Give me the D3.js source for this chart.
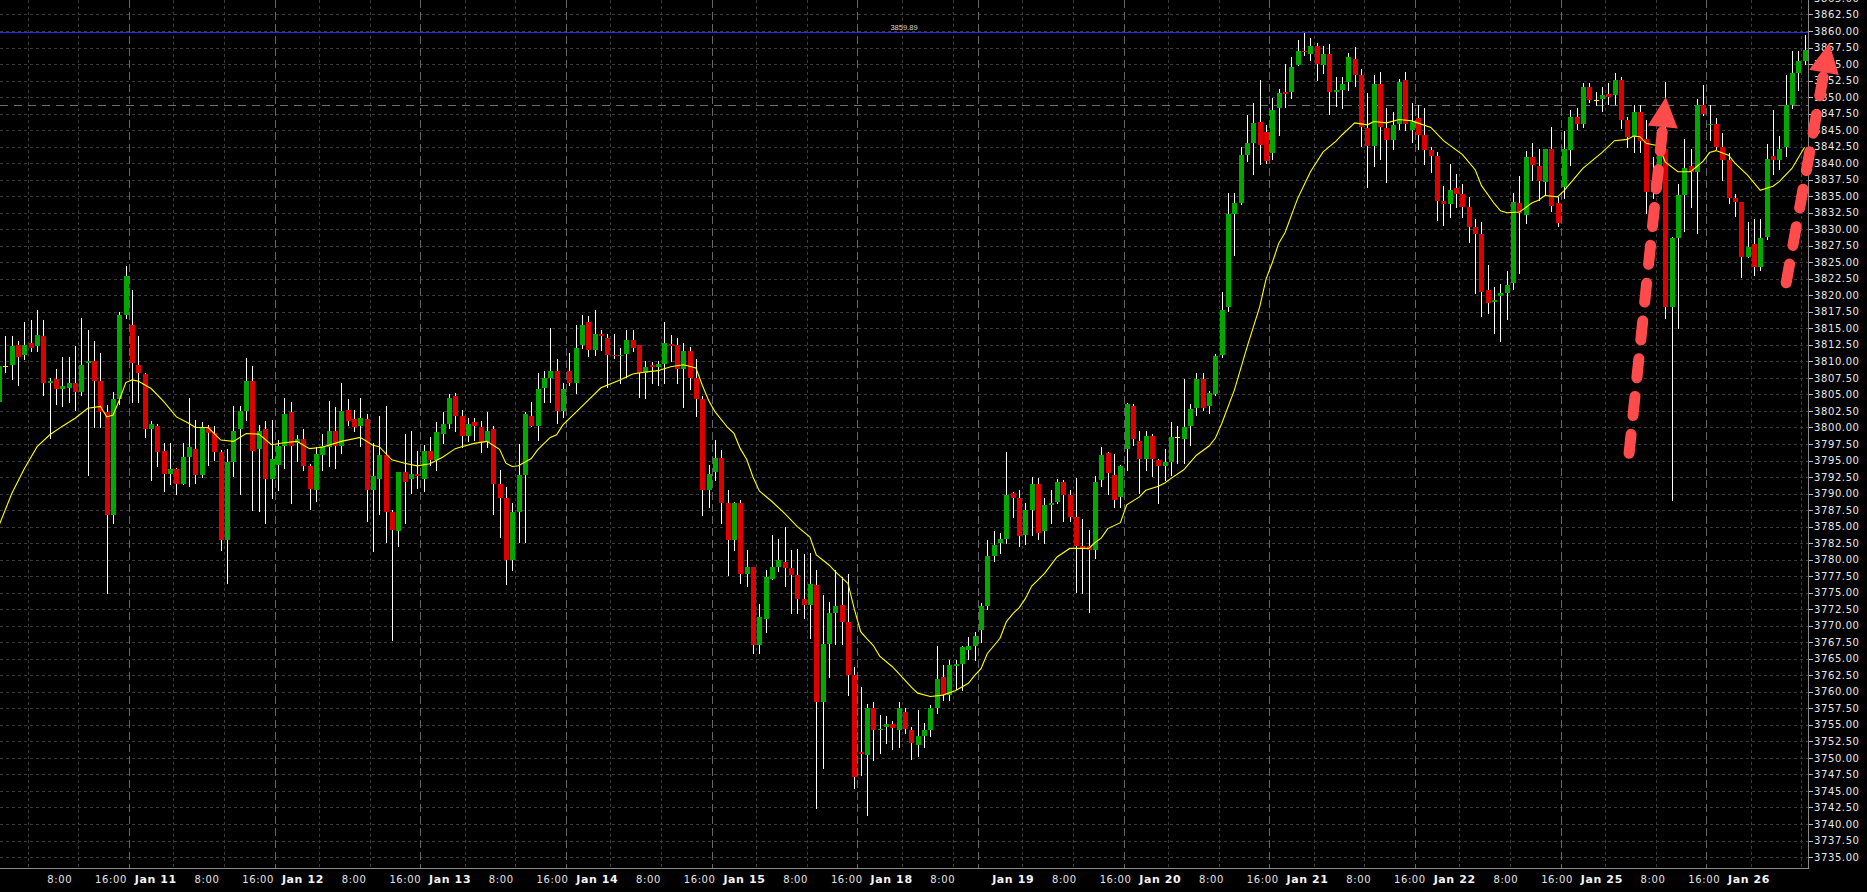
<!DOCTYPE html>
<html><head><meta charset="utf-8">
<script src="https://cdn.jsdelivr.net/npm/d3@7/dist/d3.min.js"></script>
<style>
html,body{margin:0;padding:0;background:#000;overflow:hidden}
svg{display:block}
</style></head><body>
<svg id="chart" width="1867" height="892"></svg>
<script>
// ---------------- DATA ----------------
const opens = [
3803.8,3809.3,3809.45,3812.5,3810.9,3812.8,3812.3,3813.8,3806.8,3807.3,
3805.8,3806.0,3806.8,3805.3,3809.8,3810.1,3807.1,3802.4,3786.7,3804.3,
3817.0,3815.5,3809.45,3808.1,3799.8,3800.2,3796.4,3793.0,3793.7,3791.5,
3795.5,3796.7,3792.8,3800.1,3799.1,3796.3,3783.0,3794.8,3799.8,3802.5,
3807.1,3796.7,3799.7,3792.2,3794.3,3797.2,3802.3,3797.6,3798.2,3794.1,
3790.5,3795.8,3797.1,3799.5,3797.2,3802.7,3801.3,3800.2,3801.3,3790.5,
3792.2,3795.9,3787.2,3784.4,3793.2,3792.2,3793.0,3792.2,3796.4,3795.1,
3799.0,3800.5,3804.8,3801.7,3798.7,3800.9,3800.0,3797.8,3799.7,3791.4,
3789.4,3779.9,3787.2,3792.8,3801.7,3800.2,3806.0,3807.5,3808.5,3802.5,
3808.5,3806.7,3812.5,3815.9,3811.8,3814.1,3813.6,3811.0,3810.8,3811.1,
3813.3,3812.5,3808.3,3809.4,3809.2,3809.6,3812.6,3812.5,3808.9,3811.6,
3807.5,3804.3,3790.5,3793.3,3795.4,3788.5,3783.0,3788.5,3777.8,3778.9,
3767.1,3771.0,3777.0,3778.9,3779.7,3778.8,3777.7,3774.1,3773.2,3776.1,
3758.4,3767.2,3772.0,3773.1,3770.5,3762.5,3750.9,3750.5,3757.6,3754.2,
3754.7,3755.1,3754.2,3757.0,3754.2,3752.0,3753.3,3754.2,3757.5,3762.2,
3759.5,3763.9,3764.2,3766.4,3766.9,3769.3,3773.0,3780.6,3782.5,3783.2,
3790.1,3789.4,3783.7,3787.5,3791.4,3784.4,3788.3,3788.7,3791.7,3789.8,
3786.4,3782.1,3782.1,3781.4,3792.1,3796.1,3792.8,3789.5,3796.7,3803.2,
3797.9,3795.3,3798.7,3795.1,3794.1,3794.8,3798.5,3798.3,3800.2,3803.0,
3807.4,3803.2,3805.0,3811.0,3818.2,3832.3,3834.0,3841.2,3843.1,3846.2,
3844.7,3841.6,3848.4,3850.7,3850.7,3854.9,3857.0,3856.5,3857.7,3854.9,
3856.5,3850.7,3851.1,3852.3,3855.7,3853.3,3845.3,3842.6,3852.0,3845.3,
3843.5,3846.0,3852.6,3845.0,3846.8,3844.2,3842.0,3841.1,3834.3,3833.8,
3836.2,3835.4,3833.3,3830.4,3829.3,3820.8,3819.0,3819.9,3820.4,3821.8,
3833.9,3832.2,3841.0,3839.6,3837.1,3842.1,3834.0,3836.4,3842.0,3847.0,
3846.0,3851.6,3849.5,3849.7,3850.4,3850.3,3852.6,3846.6,3844.0,3847.7,
3843.6,3835.7,3837.3,3842.2,3818.2,3828.6,3835.2,3839.6,3838.6,3848.8,
3845.8,3845.9,3842.5,3840.5,3834.8,3834.1,3825.8,3827.7,3824.3,3828.9,
3841.1,3840.5,3842.5,3848.8,3853.7,3855.5];
const highs = [
3810.8,3813.8,3813.8,3813.1,3815.9,3816.3,3817.8,3816.3,3807.5,3808.9,
3810.7,3810.6,3812.4,3816.6,3814.8,3813.1,3811.3,3803.4,3805.4,3817.5,
3824.5,3820.8,3813.8,3808.2,3801.0,3800.6,3797.7,3797.7,3793.8,3797.7,
3804.4,3801.1,3800.9,3800.4,3800.2,3796.6,3796.8,3803.2,3803.2,3810.5,
3809.3,3800.4,3801.0,3801.1,3798.1,3804.5,3803.9,3798.9,3799.8,3794.5,
3797.0,3799.0,3804.0,3803.1,3806.8,3804.3,3802.6,3804.4,3802.0,3797.6,
3801.7,3803.2,3787.5,3793.3,3799.0,3799.5,3796.5,3797.4,3798.6,3800.9,
3802.4,3805.1,3805.2,3802.6,3801.5,3801.5,3801.0,3802.4,3800.2,3793.6,
3791.0,3788.6,3797.5,3802.4,3803.8,3808.2,3808.6,3815.0,3810.3,3806.7,
3811.2,3815.5,3817.0,3816.8,3817.8,3814.7,3814.2,3814.1,3812.1,3814.7,
3814.7,3812.5,3810.1,3809.9,3810.0,3816.0,3814.0,3813.6,3812.8,3812.2,
3810.3,3804.7,3794.3,3798.1,3796.6,3790.6,3788.8,3789.0,3781.4,3778.9,
3773.3,3778.5,3783.7,3783.1,3785.0,3781.4,3781.6,3780.9,3781.0,3778.5,
3774.6,3773.6,3778.4,3777.3,3777.8,3763.8,3760.8,3758.1,3758.5,3756.5,
3756.3,3755.6,3758.4,3757.6,3754.7,3757.2,3755.3,3758.0,3766.9,3764.0,
3764.8,3764.8,3766.9,3768.3,3769.1,3773.5,3783.0,3784.4,3784.1,3796.3,
3790.3,3790.5,3788.6,3792.5,3792.4,3789.4,3790.5,3792.2,3792.0,3790.5,
3792.4,3786.2,3784.5,3792.7,3797.1,3796.3,3796.0,3794.3,3803.7,3803.5,
3799.5,3799.5,3799.0,3795.2,3796.7,3800.9,3800.2,3807.3,3803.6,3808.2,
3808.3,3805.5,3811.1,3820.5,3835.5,3835.5,3842.4,3847.3,3849.1,3852.6,
3845.8,3849.8,3851.2,3855.0,3856.1,3858.7,3859.9,3859.0,3858.2,3857.7,
3858.0,3853.0,3853.1,3856.6,3857.6,3854.2,3850.6,3853.3,3853.8,3848.3,
3847.7,3852.7,3853.8,3849.1,3848.8,3848.4,3842.5,3841.7,3836.5,3839.9,
3838.4,3836.9,3834.9,3831.5,3831.1,3824.6,3821.3,3821.7,3823.7,3835.5,
3838.0,3841.9,3843.1,3842.2,3842.2,3845.5,3834.9,3844.9,3848.0,3848.4,
3852.2,3852.1,3850.7,3851.6,3852.1,3853.7,3853.0,3847.0,3848.8,3848.8,
3846.5,3841.0,3843.5,3852.3,3828.9,3836.9,3843.7,3842.2,3849.7,3851.8,
3848.8,3846.8,3844.6,3841.6,3835.4,3834.1,3831.1,3831.6,3831.5,3842.9,
3848.1,3844.1,3853.3,3857.0,3857.0,3859.4];
const lows = [
3802.8,3808.4,3807.3,3806.5,3810.4,3811.5,3811.5,3804.9,3798.4,3803.6,
3803.2,3803.9,3802.7,3804.9,3792.8,3800.1,3800.1,3774.9,3785.6,3803.6,
3816.5,3803.9,3803.9,3798.6,3792.0,3794.1,3790.4,3791.5,3790.0,3791.5,
3791.2,3791.6,3792.5,3794.3,3795.1,3781.4,3776.4,3792.7,3790.0,3801.2,
3787.5,3787.4,3785.5,3789.3,3790.5,3793.8,3788.6,3795.0,3793.6,3787.7,
3788.9,3793.6,3794.2,3793.9,3796.2,3800.4,3799.4,3797.2,3785.9,3781.3,
3786.9,3782.7,3767.8,3782.0,3785.6,3790.1,3790.8,3790.4,3794.3,3793.6,
3797.6,3799.9,3799.5,3797.0,3798.0,3798.1,3796.3,3797.0,3786.9,3783.5,
3776.3,3778.5,3782.7,3782.7,3800.2,3798.1,3803.8,3803.9,3800.7,3801.6,
3806.4,3805.2,3812.0,3810.8,3811.0,3811.7,3806.1,3810.5,3806.8,3807.7,
3811.6,3804.6,3804.4,3806.8,3806.4,3806.8,3810.0,3806.8,3803.1,3805.9,
3801.7,3786.8,3787.9,3792.1,3785.6,3777.7,3781.5,3776.4,3776.0,3765.8,
3765.8,3769.1,3777.0,3778.3,3776.0,3771.9,3771.9,3771.1,3768.1,3742.4,
3748.4,3762.2,3767.2,3767.2,3759.5,3745.4,3747.4,3741.4,3749.7,3750.8,
3752.2,3751.3,3751.7,3753.7,3749.9,3750.3,3751.7,3753.3,3756.8,3758.8,
3758.8,3760.5,3760.3,3765.0,3764.8,3767.6,3772.5,3779.8,3781.0,3782.5,
3786.5,3782.0,3782.4,3783.7,3783.2,3782.5,3785.5,3788.5,3785.9,3785.9,
3775.1,3774.9,3772.1,3780.2,3791.1,3790.0,3788.0,3788.0,3793.6,3797.3,
3790.1,3793.6,3792.7,3788.5,3792.0,3792.8,3794.7,3794.7,3797.3,3801.9,
3802.6,3802.2,3804.9,3810.7,3817.7,3826.1,3833.8,3840.4,3838.4,3839.9,
3840.0,3840.7,3844.3,3848.5,3849.9,3854.8,3856.4,3855.6,3852.6,3853.6,
3847.5,3848.6,3848.3,3851.1,3851.7,3842.6,3836.4,3839.6,3840.7,3837.2,
3842.2,3845.1,3845.0,3843.2,3842.1,3839.9,3838.7,3831.4,3830.6,3831.9,
3833.4,3831.9,3828.1,3820.4,3816.9,3817.3,3814.3,3813.1,3816.4,3821.0,
3823.4,3830.9,3837.5,3834.4,3835.2,3832.7,3830.5,3834.7,3839.7,3845.1,
3845.5,3849.3,3848.8,3847.9,3849.0,3849.0,3845.3,3842.5,3841.7,3841.7,
3832.4,3834.7,3836.0,3816.5,3789.0,3815.0,3829.8,3833.4,3829.5,3847.3,
3843.5,3842.1,3837.5,3834.0,3832.0,3822.7,3825.8,3823.1,3823.9,3828.5,
3838.4,3839.1,3841.1,3848.4,3851.0,3855.0];
const closes = [
3809.3,3809.3,3812.4,3810.6,3812.5,3812.1,3814.0,3806.8,3807.1,3805.8,
3806.3,3806.8,3805.3,3809.45,3810.0,3807.1,3802.4,3786.7,3804.3,3817.0,
3822.9,3809.8,3808.3,3799.8,3800.5,3796.3,3793.0,3793.7,3791.5,3795.5,
3797.1,3792.8,3800.1,3799.1,3796.3,3782.9,3794.8,3799.5,3802.5,3807.1,
3796.5,3799.5,3792.2,3795.2,3797.2,3802.0,3797.2,3798.2,3794.1,3790.7,
3796.0,3797.2,3799.5,3797.2,3802.5,3801.0,3800.1,3801.5,3790.5,3792.6,
3795.8,3787.2,3784.5,3793.2,3791.8,3793.0,3792.6,3796.4,3795.1,3799.3,
3800.5,3804.4,3801.7,3798.7,3800.5,3800.2,3797.8,3799.5,3791.4,3789.4,
3779.9,3787.2,3792.8,3802.0,3800.2,3805.9,3807.5,3808.5,3802.5,3805.8,
3806.7,3812.1,3815.5,3811.8,3814.1,3813.9,3811.0,3810.8,3811.0,3813.3,
3812.1,3808.3,3809.2,3809.2,3809.6,3812.8,3812.3,3808.9,3811.6,3807.5,
3804.3,3790.5,3793.0,3795.4,3788.5,3783.0,3788.5,3777.8,3778.9,3767.1,
3771.3,3777.4,3778.9,3780.0,3778.8,3777.7,3774.1,3773.2,3776.3,3758.4,
3767.2,3772.0,3773.0,3770.5,3762.5,3747.1,3750.6,3757.6,3754.2,3754.3,
3755.1,3754.6,3757.6,3754.3,3752.3,3753.3,3754.2,3757.5,3761.9,3759.5,
3764.0,3764.2,3766.8,3766.9,3768.4,3773.0,3780.6,3782.2,3783.2,3789.8,
3789.4,3783.6,3787.5,3791.4,3784.1,3788.3,3788.6,3791.7,3789.8,3786.4,
3782.1,3781.7,3781.5,3791.7,3795.8,3793.1,3789.1,3794.1,3803.5,3798.3,
3795.3,3798.7,3795.3,3794.1,3794.8,3798.5,3798.5,3800.1,3802.8,3807.3,
3803.0,3805.2,3810.8,3817.8,3832.3,3834.0,3841.2,3843.1,3846.1,3842.7,
3840.4,3848.0,3850.6,3850.4,3854.5,3857.0,3856.8,3857.7,3855.0,3856.5,
3850.8,3851.1,3852.0,3856.0,3853.3,3845.5,3842.6,3852.0,3845.5,3843.5,
3845.8,3852.3,3846.0,3846.3,3844.2,3842.0,3841.1,3834.3,3833.8,3836.0,
3835.4,3833.3,3830.4,3829.3,3820.5,3818.9,3819.3,3820.4,3821.5,3834.1,
3832.5,3841.0,3839.7,3837.3,3842.1,3833.5,3831.0,3842.1,3847.0,3846.0,
3851.6,3849.5,3849.5,3850.3,3850.0,3852.6,3846.6,3844.0,3847.7,3843.4,
3835.7,3837.3,3842.0,3818.2,3828.6,3835.2,3839.3,3838.7,3848.8,3847.4,
3846.0,3842.5,3840.5,3834.8,3834.1,3825.8,3827.3,3824.3,3828.6,3840.7,
3840.5,3842.2,3848.8,3853.6,3855.5,3857.1];

// Moving average (bar index -> value)
const maBars = [0,2,4,6,8,10,12,14,16,17,18,19,20,21,22,24,26,28,30,31,33,35,37,39,41,43,45,47,49,51,
54,57,59,60,62,64,66,68,70,72,73,75,77,79,80,81,82,84,85,87,88,89,92,95,98,100,102,104,106,108,
110,111,112,113,115,116,117,118,119,120,122,124,126,128,129,131,132,134,135,136,137,138,139,141,142,144,145,147,149,151,
153,154,155,156,158,159,160,161,162,163,165,167,169,172,173,174,175,177,178,180,181,183,184,185,187,189,191,192,193,195,
197,199,200,201,202,203,205,207,209,211,212,214,216,217,219,221,223,226,228,231,233,234,236,237,238,240,242,243,244,246,
247,250,253,255,257,258,259,260,262,263,265,267,268,269,270,271,273,274,276,278,279,280,281,283,285];
const maValues = [3785.2,3790.0,3793.8,3797.1,3798.9,3800.2,3801.4,3802.9,3803.2,3801.6,3801.9,3804.2,3806.8,3807.2,3807.0,3805.9,3803.9,3801.6,3800.6,3800.0,
3800.0,3798.1,3797.9,3799.1,3799.0,3797.4,3797.7,3797.9,3796.8,3797.0,3797.9,3798.5,3797.3,3797.1,3795.1,3794.6,3794.2,3794.5,3795.5,3796.8,
3797.1,3797.6,3797.9,3796.7,3794.6,3794.1,3794.2,3795.3,3796.6,3798.5,3798.9,3800.4,3803.2,3806.0,3807.2,3808.1,3808.4,3808.6,3809.2,3809.5,
3809.0,3806.4,3804.1,3802.4,3800.0,3799.1,3796.8,3795.2,3792.5,3790.4,3788.8,3787.0,3785.0,3783.4,3780.7,3779.2,3778.2,3776.4,3772.5,3769.1,
3768.0,3767.0,3765.4,3763.8,3762.8,3760.7,3759.8,3759.3,3759.5,3760.2,3761.3,3762.5,3763.5,3765.8,3768.1,3770.6,3771.8,3772.7,3774.1,3776.0,
3777.9,3780.4,3781.7,3781.7,3782.6,3783.3,3784.7,3785.6,3788.3,3789.5,3790.5,3791.1,3791.6,3792.3,3793.6,3795.8,3797.2,3798.4,3800.6,3805.7,
3812.2,3818.3,3822.5,3825.0,3827.9,3829.5,3834.7,3838.7,3841.7,3843.3,3844.3,3846.1,3845.8,3846.3,3846.1,3846.6,3846.4,3845.4,3843.4,3841.3,
3839.0,3836.6,3833.9,3832.8,3832.5,3832.6,3834.0,3834.4,3835.1,3834.9,3835.8,3839.2,3841.6,3843.4,3843.6,3844.1,3844.0,3843.0,3842.6,3840.2,
3838.7,3838.7,3839.5,3840.3,3841.6,3841.9,3841.2,3840.0,3838.2,3835.9,3836.2,3836.5,3837.2,3839.2,3842.4];

// Trading sessions (hourly bars; hour 23 closed each day, Jan 18 holiday break)
const fullDay = d3.range(0, 23);
const sessions = [
  ["Jan 7", d3.range(18, 23)], ["Jan 8", fullDay], ["Jan 11", fullDay], ["Jan 12", fullDay],
  ["Jan 13", fullDay], ["Jan 14", fullDay], ["Jan 15", fullDay],
  ["Jan 18", d3.range(0, 12).concat(d3.range(16, 23))],
  ["Jan 19", fullDay], ["Jan 20", fullDay], ["Jan 21", fullDay], ["Jan 22", fullDay],
  ["Jan 25", fullDay], ["Jan 26", d3.range(0, 9)]
];
const priceTicks = d3.range(3735, 3865.01, 2.5);
const lastPrice = 3859.89;
const dashedLevel = 3848.8;
const arrowNotes = [
  {fromBar: 257.3, fromPrice: 3796.1, toBar: 263.1, toPrice: 3850.0},
  {fromBar: 282.1, fromPrice: 3821.9, toBar: 288.9, toPrice: 3858.2}
];

// ---------------- LAYOUT ----------------
const plotW = 1808, plotH = 868;
const N = opens.length;
const barTimes = sessions.flatMap(([date, hours]) => hours.map(h => ({date, h})));
const x = d3.scaleLinear().domain([0, N - 1]).range([-0.9, -0.9 + (N - 1) * 6.335]);
const xLab = d3.scaleLinear().domain([0, N - 1]).range([-23.4, -23.4 + (N - 1) * 6.3986]);
const y = d3.scaleLinear().domain([3733.34, 3864.69]).range([plotH, 0]);
const step = x(1) - x(0);

const svg = d3.select("#chart");
svg.append("rect").attr("width", 1867).attr("height", 892).attr("fill", "#000");
svg.append("defs").append("clipPath").attr("id", "plotclip")
  .append("rect").attr("x", 0).attr("y", 0).attr("width", plotW).attr("height", plotH);
const plot = svg.append("g").attr("clip-path", "url(#plotclip)");

// horizontal grid
plot.append("g").selectAll("line").data(priceTicks).join("line")
  .attr("x1", 0).attr("x2", plotW)
  .attr("y1", d => Math.round(y(d)) + 0.5).attr("y2", d => Math.round(y(d)) + 0.5)
  .attr("stroke", "#3a3a3a").attr("stroke-dasharray", "3,3").attr("shape-rendering", "crispEdges");

// vertical grid
const vgrid = barTimes.map((t, i) => ({i, h: t.h})).filter(d => d.h === 0 || d.h === 8 || d.h === 16);
plot.append("g").selectAll("line").data(vgrid).join("line")
  .attr("x1", d => Math.round(x(d.i) - step / 2) + 0.5).attr("x2", d => Math.round(x(d.i) - step / 2) + 0.5)
  .attr("y1", 0).attr("y2", plotH)
  .attr("stroke", d => d.h === 16 ? "#666" : "#3a3a3a")
  .attr("stroke-dasharray", d => d.h === 16 ? "8,4" : "3,3")
  .attr("shape-rendering", "crispEdges");

// dashed level line
plot.append("line").attr("x1", 0).attr("x2", plotW)
  .attr("y1", Math.round(y(dashedLevel)) + 0.5).attr("y2", Math.round(y(dashedLevel)) + 0.5)
  .attr("stroke", "#6e6e6e").attr("stroke-dasharray", "8,6").attr("shape-rendering", "crispEdges");

// candles
const bars = d3.range(N).map(i => ({i, o: opens[i], h: highs[i], l: lows[i], c: closes[i]}));
const cg = plot.append("g");
cg.selectAll("line").data(bars).join("line")
  .attr("x1", d => Math.round(x(d.i)) + 0.5).attr("x2", d => Math.round(x(d.i)) + 0.5)
  .attr("y1", d => Math.round(y(d.h))).attr("y2", d => Math.round(y(d.l)) + 1)
  .attr("stroke", "#fff").attr("stroke-width", 1).attr("shape-rendering", "crispEdges");
cg.selectAll("rect").data(bars).join("rect")
  .attr("x", d => Math.round(x(d.i)) - 2).attr("width", 5)
  .attr("y", d => Math.round(y(Math.max(d.o, d.c))))
  .attr("height", d => Math.max(1, Math.round(y(Math.min(d.o, d.c))) - Math.round(y(Math.max(d.o, d.c)))))
  .attr("fill", d => d.c > d.o ? "#00a800" : d.c < d.o ? "#dc0000" : "#ffff00")
  .attr("shape-rendering", "crispEdges");

// moving average
const maPts = maBars.map((b, k) => [b, maValues[k]]);
plot.append("path").datum(maPts)
  .attr("d", d3.line().x(d => x(d[0])).y(d => y(d[1])))
  .attr("fill", "none").attr("stroke", "#ffff00").attr("stroke-width", 1.1);

// last price line
plot.append("line").attr("x1", 0).attr("x2", plotW)
  .attr("y1", Math.round(y(lastPrice)) + 0.5).attr("y2", Math.round(y(lastPrice)) + 0.5)
  .attr("stroke", "#2a2aff").attr("shape-rendering", "crispEdges");
svg.append("text").attr("x", plotW / 2).attr("y", Math.round(y(lastPrice)) - 2)
  .attr("text-anchor", "middle").attr("font-family", "Liberation Sans, Arial, sans-serif")
  .attr("font-size", 7.5).attr("fill", "#d4d4d4").text(d3.format(".2f")(lastPrice));

// axes
svg.append("line").attr("x1", 0).attr("x2", plotW + 0.5).attr("y1", plotH + 0.5).attr("y2", plotH + 0.5)
  .attr("stroke", "#8a8a8a").attr("shape-rendering", "crispEdges");
svg.append("line").attr("x1", plotW + 0.5).attr("x2", plotW + 0.5).attr("y1", 0).attr("y2", plotH + 0.5)
  .attr("stroke", "#8a8a8a").attr("shape-rendering", "crispEdges");

const pg = svg.append("g");
pg.selectAll("line").data(priceTicks).join("line")
  .attr("x1", plotW + 1).attr("x2", plotW + 5)
  .attr("y1", d => Math.round(y(d)) + 0.5).attr("y2", d => Math.round(y(d)) + 0.5)
  .attr("stroke", "#bbb").attr("shape-rendering", "crispEdges");
pg.selectAll("text").data(priceTicks).join("text")
  .attr("x", plotW + 6).attr("y", d => y(d) + 3.6)
  .attr("font-family", "DejaVu Sans, sans-serif").attr("font-size", 10)
  .attr("letter-spacing", "0.6px").attr("fill", "#e8e8e8")
  .text(d => d3.format(".2f")(d));

// time labels
const labels = barTimes.map((t, i) => ({i, t}))
  .filter(d => d.t.h === 0 || d.t.h === 8 || d.t.h === 16)
  .map(d => ({i: d.i, bold: d.t.h === 0, text: d.t.h === 0 ? d.t.date : d.t.h + ":00"}));
const tg = svg.append("g");
let prevRight = -Infinity;
labels.forEach(d => {
  const el = tg.append("text").attr("x", xLab(d.i)).attr("y", 882.5)
    .attr("text-anchor", "middle").attr("font-family", "DejaVu Sans, sans-serif")
    .attr("font-size", d.bold ? 11 : 10).attr("font-weight", d.bold ? "bold" : "normal")
    .attr("letter-spacing", "0.6px").attr("fill", d.bold ? "#f4f4f4" : "#e4e4e4").text(d.text);
  const bb = el.node().getBBox();
  if (bb.x < 0 || bb.x < prevRight + 3 || bb.x + bb.width > plotW) { el.remove(); }
  else prevRight = bb.x + bb.width;
});

// annotation arrows
const ag = svg.append("g");
arrowNotes.forEach(a => {
  const sx = x(a.fromBar), sy = y(a.fromPrice), tx = x(a.toBar), ty = y(a.toPrice);
  const len = Math.hypot(tx - sx, ty - sy), ux = (tx - sx) / len, uy = (ty - sy) / len;
  const px = -uy, py = ux, headL = 30, headW = 15;
  const bx = tx - ux * headL, by = ty - uy * headL;
  ag.append("line").attr("x1", sx).attr("y1", sy).attr("x2", bx + ux * 2).attr("y2", by + uy * 2)
    .attr("stroke", "#ff4b4b").attr("stroke-width", 11).attr("stroke-linecap", "round")
    .attr("stroke-dasharray", "19,19");
  ag.append("path").attr("d", `M${tx},${ty}L${bx + px * headW},${by + py * headW}L${bx - px * headW},${by - py * headW}Z`)
    .attr("fill", "#ff4b4b");
});
</script>
</body></html>
